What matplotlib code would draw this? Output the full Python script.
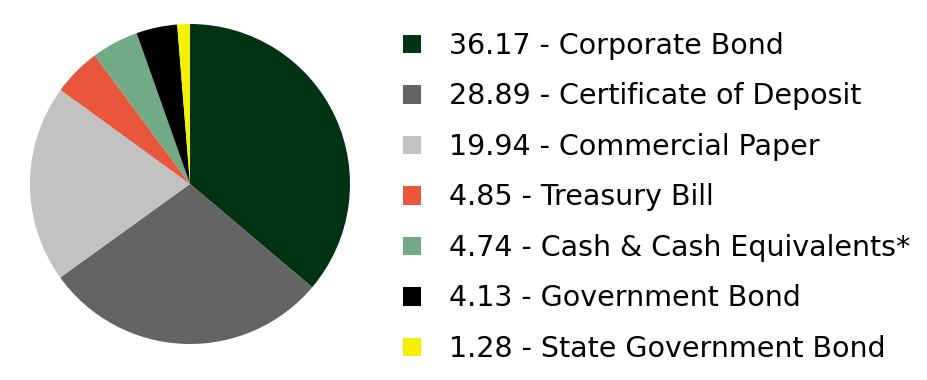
import matplotlib.pyplot as plt

labels = ["Corporate Bond", "Certificate of Deposit", "Commercial Paper", "Treasury Bill",
          "Cash & Cash Equivalents*", "Government Bond", "State Government Bond"]
values = [36.17, 28.89, 19.94, 4.85, 4.74, 4.13, 1.28]
colors = ["#003311", "#646464", "#c2c2c2", "#e8573b", "#72aa86", "#000000", "#f6f000"]

plt.rcParams['font.family'] = ['DejaVu Sans']

fig = plt.figure(figsize=(9.28, 3.8), dpi=100)
ax = fig.add_axes([30 / 928, 36 / 380, 320 / 928, 320 / 380])
wedges, _ = ax.pie(values, colors=colors, startangle=90, counterclock=False,
                   wedgeprops={"linewidth": 0})
ax.set_xlim(-1, 1)
ax.set_ylim(-1, 1)
ax.set_aspect("equal")

legend_labels = [f"{v:.2f} - {l}" for v, l in zip(values, labels)]
fig.legend(wedges, legend_labels, loc="upper left", bbox_to_anchor=(403 / 928, 1 - 32 / 380),
           frameon=False, fontsize=20.5, handlelength=0.62, handleheight=0.62,
           handletextpad=0.98, labelspacing=0.79, borderpad=0, borderaxespad=0)

fig.savefig("out.png", dpi=100)
